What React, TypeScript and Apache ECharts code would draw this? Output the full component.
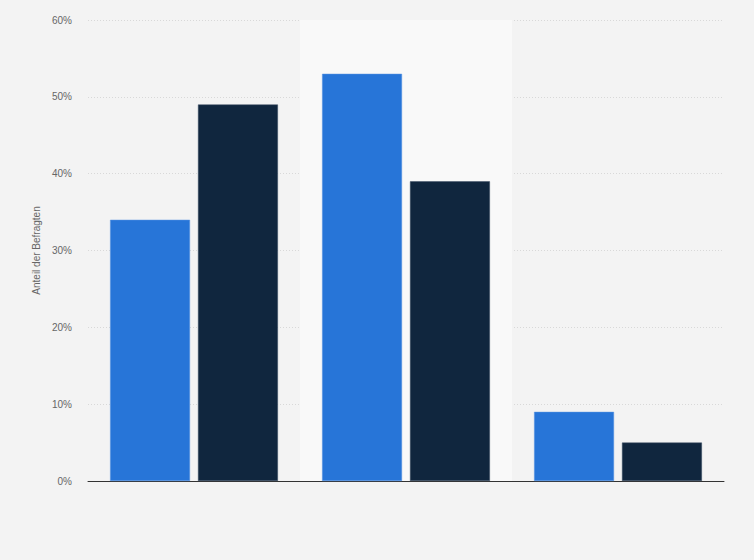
import { useEffect, useRef } from "react";
import * as echarts from "echarts";

const categories = ["A", "B", "C"];
const seriesBlue = [34, 53, 9];
const seriesDark = [49, 39, 5];
const yTicks = [0, 10, 20, 30, 40, 50, 60];

export default function App() {
  const ref = useRef<HTMLDivElement>(null);

  useEffect(() => {
    document.body.style.margin = "0";
    if (!ref.current) return;
    const chart = echarts.init(ref.current, undefined, { renderer: "svg" });
    chart.setOption({
      animation: false,
      backgroundColor: "#f3f3f3",
      textStyle: { fontFamily: "Liberation Sans, Arial, sans-serif" },
      grid: { left: 88, right: 30, top: 20, bottom: 79 },
      xAxis: {
        type: "category",
        data: categories,
        axisTick: { show: false },
        axisLabel: { show: false },
        axisLine: { lineStyle: { color: "#333", width: 1 } },
        splitArea: {
          show: true,
          areaStyle: { color: ["rgba(0,0,0,0)", "#f9f9f9"] },
        },
      },
      yAxis: {
        type: "value",
        min: yTicks[0],
        max: yTicks[yTicks.length - 1],
        interval: 10,
        name: "Anteil der Befragten",
        nameLocation: "middle",
        nameGap: 45,
        nameTextStyle: { color: "#666", fontSize: 10 },
        axisLabel: { formatter: "{value}%", color: "#666", fontSize: 10, margin: 16 },
        axisLine: { show: false },
        axisTick: { show: false },
        splitLine: { lineStyle: { color: "#d8d8d8", type: [1, 2] } },
      },
      series: [
        {
          type: "bar",
          data: seriesBlue,
          barWidth: "37.7%",
          barGap: "10%",
          itemStyle: { color: "#2775d8", borderColor: "#5a94e0", borderWidth: 0.5 },
        },
        {
          type: "bar",
          data: seriesDark,
          barWidth: "37.7%",
          itemStyle: { color: "#10263e", borderColor: "#3a4d62", borderWidth: 0.5 },
        },
      ],
    });
    return () => chart.dispose();
  }, []);

  return <div ref={ref} style={{ width: 754, height: 560 }} />;
}
